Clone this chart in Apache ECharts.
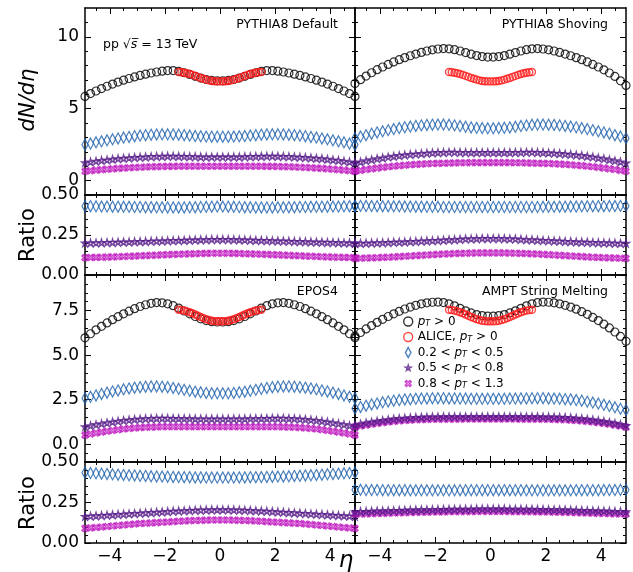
<!DOCTYPE html>
<html>
<head>
<meta charset="utf-8">
<script src="https://cdn.jsdelivr.net/npm/echarts@6/dist/echarts.min.js"></script>
<style>html,body{margin:0;padding:0;background:#fff}#chart{width:633px;height:572px}</style>
</head>
<body>
<div id="chart"></div>
<script>
// eta bins (step 0.2) and ALICE points (step 0.1)
var eta = [-4.9,-4.7,-4.5,-4.3,-4.1,-3.9,-3.7,-3.5,-3.3,-3.1,-2.9,-2.7,-2.5,-2.3,-2.1,-1.9,-1.7,-1.5,-1.3,-1.1,-0.9,-0.7,-0.5,-0.3,-0.1,
           0.1,0.3,0.5,0.7,0.9,1.1,1.3,1.5,1.7,1.9,2.1,2.3,2.5,2.7,2.9,3.1,3.3,3.5,3.7,3.9,4.1,4.3,4.5,4.7,4.9];
var etaAlice = [-1.5,-1.4,-1.3,-1.2,-1.1,-1.0,-0.9,-0.8,-0.7,-0.6,-0.5,-0.4,-0.3,-0.2,-0.1,0,0.1,0.2,0.3,0.4,0.5,0.6,0.7,0.8,0.9,1.0,1.1,1.2,1.3,1.4,1.5];
var alice = [7.55,7.53,7.50,7.46,7.41,7.35,7.28,7.21,7.14,7.08,7.02,6.97,6.93,6.91,6.90,6.90,6.90,6.91,6.93,6.97,7.02,7.08,7.14,7.21,7.28,7.35,7.41,7.46,7.50,7.53,7.55];

// PYTHIA8 Default
var defAll = [5.85,6.05,6.23,6.40,6.56,6.71,6.85,6.98,7.10,7.21,7.31,7.40,7.48,7.55,7.61,7.65,7.65,7.60,7.50,7.38,7.25,7.13,7.03,6.97,6.94,
              6.94,6.97,7.03,7.13,7.25,7.38,7.50,7.60,7.65,7.65,7.61,7.55,7.48,7.40,7.31,7.21,7.10,6.98,6.85,6.71,6.56,6.40,6.23,6.05,5.85];
var defB1 = [2.50,2.58,2.66,2.73,2.80,2.87,2.93,2.99,3.04,3.09,3.13,3.16,3.19,3.21,3.22,3.22,3.21,3.19,3.16,3.13,3.10,3.08,3.06,3.05,3.05,
             3.05,3.05,3.06,3.08,3.10,3.13,3.16,3.19,3.21,3.22,3.22,3.21,3.19,3.16,3.13,3.09,3.04,2.99,2.93,2.87,2.80,2.73,2.66,2.58,2.50];
var defB2 = [1.25,1.30,1.35,1.40,1.44,1.48,1.52,1.55,1.58,1.61,1.63,1.65,1.67,1.68,1.69,1.70,1.70,1.69,1.68,1.67,1.66,1.65,1.65,1.64,1.64,
             1.64,1.64,1.65,1.65,1.66,1.67,1.68,1.69,1.70,1.70,1.69,1.68,1.67,1.65,1.63,1.61,1.58,1.55,1.52,1.48,1.44,1.40,1.35,1.30,1.25];
var defB3 = [0.65,0.69,0.73,0.76,0.79,0.82,0.85,0.87,0.89,0.91,0.93,0.95,0.96,0.97,0.98,0.99,0.99,1.00,1.00,1.00,1.00,1.00,1.00,1.00,1.00,
             1.00,1.00,1.00,1.00,1.00,1.00,1.00,1.00,0.99,0.99,0.98,0.97,0.96,0.95,0.93,0.91,0.89,0.87,0.85,0.82,0.79,0.76,0.73,0.69,0.65];
var defR1 = [0.430,0.430,0.429,0.428,0.428,0.427,0.427,0.426,0.426,0.425,0.425,0.424,0.424,0.423,0.423,0.422,0.422,0.422,0.422,0.423,0.424,0.425,0.426,0.427,0.428,
             0.428,0.427,0.426,0.425,0.424,0.423,0.422,0.422,0.422,0.422,0.423,0.423,0.424,0.424,0.425,0.425,0.426,0.426,0.427,0.427,0.428,0.428,0.429,0.430,0.430];
var defR2 = [0.200,0.200,0.201,0.202,0.203,0.204,0.205,0.206,0.207,0.208,0.209,0.210,0.211,0.212,0.213,0.214,0.215,0.216,0.217,0.218,0.219,0.220,0.221,0.222,0.222,
             0.222,0.222,0.221,0.220,0.219,0.218,0.217,0.216,0.215,0.214,0.213,0.212,0.211,0.210,0.209,0.208,0.207,0.206,0.205,0.204,0.203,0.202,0.201,0.200,0.200];
var defR3 = [0.108,0.109,0.110,0.111,0.112,0.113,0.114,0.116,0.117,0.118,0.120,0.121,0.123,0.124,0.126,0.127,0.129,0.130,0.131,0.132,0.133,0.134,0.135,0.136,0.136,
             0.136,0.136,0.135,0.134,0.133,0.132,0.131,0.130,0.129,0.127,0.126,0.124,0.123,0.121,0.120,0.118,0.117,0.116,0.114,0.113,0.112,0.111,0.110,0.109,0.108];

// PYTHIA8 Shoving
var shvAll = [6.75,7.02,7.27,7.50,7.71,7.90,8.08,8.25,8.41,8.55,8.68,8.80,8.91,9.01,9.09,9.15,9.18,9.16,9.10,9.01,8.90,8.79,8.69,8.62,8.59,
              8.59,8.62,8.69,8.79,8.90,9.01,9.10,9.16,9.18,9.15,9.09,9.01,8.91,8.80,8.68,8.55,8.41,8.25,8.08,7.90,7.70,7.48,7.24,6.94,6.62];
var shvB1 = [2.95,3.06,3.16,3.26,3.35,3.43,3.51,3.58,3.65,3.71,3.76,3.80,3.84,3.87,3.89,3.90,3.90,3.88,3.84,3.79,3.74,3.70,3.67,3.65,3.64,
             3.64,3.65,3.67,3.70,3.74,3.79,3.84,3.88,3.90,3.90,3.89,3.87,3.84,3.80,3.76,3.71,3.65,3.58,3.51,3.43,3.35,3.26,3.16,3.06,2.95];
var shvB2 = [1.22,1.30,1.38,1.45,1.52,1.58,1.64,1.69,1.74,1.78,1.82,1.85,1.88,1.91,1.93,1.95,1.96,1.97,1.97,1.96,1.96,1.95,1.95,1.95,1.95,
             1.95,1.95,1.95,1.95,1.96,1.96,1.97,1.97,1.96,1.95,1.93,1.91,1.88,1.85,1.82,1.78,1.74,1.69,1.64,1.58,1.52,1.45,1.38,1.30,1.22];
var shvB3 = [0.65,0.71,0.77,0.82,0.87,0.92,0.96,1.00,1.04,1.07,1.10,1.13,1.15,1.17,1.19,1.20,1.21,1.22,1.23,1.24,1.24,1.25,1.25,1.25,1.25,
             1.25,1.25,1.25,1.25,1.24,1.24,1.23,1.22,1.21,1.20,1.19,1.17,1.15,1.13,1.10,1.07,1.04,1.00,0.96,0.92,0.87,0.82,0.77,0.71,0.65];
var shvR1 = [0.432,0.432,0.431,0.431,0.430,0.430,0.430,0.429,0.429,0.428,0.428,0.427,0.427,0.426,0.426,0.426,0.425,0.425,0.425,0.425,0.425,0.425,0.425,0.425,0.425,
             0.425,0.425,0.425,0.425,0.425,0.425,0.425,0.425,0.425,0.426,0.426,0.426,0.427,0.427,0.428,0.428,0.429,0.429,0.430,0.430,0.430,0.431,0.431,0.432,0.432];
var shvR2 = [0.198,0.198,0.199,0.200,0.201,0.202,0.203,0.205,0.206,0.207,0.209,0.210,0.212,0.213,0.215,0.216,0.218,0.220,0.221,0.223,0.225,0.226,0.227,0.228,0.228,
             0.228,0.228,0.227,0.226,0.225,0.223,0.221,0.220,0.218,0.216,0.215,0.213,0.212,0.210,0.209,0.207,0.206,0.205,0.203,0.202,0.201,0.200,0.199,0.198,0.198];
var shvR3 = [0.104,0.105,0.106,0.107,0.108,0.110,0.111,0.113,0.115,0.117,0.119,0.121,0.123,0.125,0.127,0.129,0.131,0.132,0.134,0.135,0.136,0.137,0.138,0.138,0.138,
             0.138,0.138,0.138,0.137,0.136,0.135,0.134,0.132,0.131,0.129,0.127,0.125,0.123,0.121,0.119,0.117,0.115,0.113,0.111,0.110,0.108,0.107,0.106,0.105,0.104];

// EPOS4
var epoAll = [5.97,6.20,6.42,6.62,6.81,6.99,7.16,7.32,7.47,7.61,7.73,7.83,7.91,7.95,7.94,7.88,7.78,7.64,7.48,7.32,7.17,7.04,6.94,6.88,6.86,
              6.86,6.88,6.94,7.04,7.17,7.32,7.48,7.64,7.78,7.88,7.94,7.95,7.91,7.83,7.73,7.61,7.47,7.32,7.16,6.99,6.81,6.62,6.42,6.20,5.97];
var epoB1 = [2.58,2.66,2.74,2.82,2.89,2.96,3.02,3.08,3.13,3.17,3.20,3.23,3.24,3.24,3.23,3.20,3.16,3.11,3.05,3.00,2.95,2.91,2.88,2.86,2.86,
             2.86,2.86,2.88,2.91,2.95,3.00,3.05,3.11,3.16,3.20,3.23,3.24,3.24,3.23,3.20,3.17,3.13,3.08,3.02,2.96,2.89,2.82,2.74,2.66,2.58];
var epoB2 = [0.98,1.04,1.10,1.15,1.20,1.25,1.29,1.33,1.36,1.39,1.41,1.43,1.44,1.45,1.45,1.45,1.44,1.44,1.43,1.43,1.42,1.42,1.42,1.42,1.42,
             1.42,1.42,1.42,1.42,1.42,1.43,1.43,1.44,1.44,1.45,1.45,1.45,1.44,1.43,1.41,1.39,1.36,1.33,1.29,1.25,1.20,1.15,1.10,1.04,0.98];
var epoB3 = [0.51,0.57,0.63,0.68,0.73,0.77,0.81,0.85,0.88,0.91,0.93,0.95,0.96,0.97,0.98,0.98,0.98,0.98,0.98,0.98,0.98,0.98,0.98,0.98,0.98,
             0.98,0.98,0.98,0.98,0.98,0.98,0.98,0.98,0.98,0.98,0.98,0.97,0.96,0.95,0.93,0.91,0.88,0.85,0.81,0.77,0.73,0.68,0.63,0.57,0.51];
var epoR1 = [0.434,0.432,0.430,0.428,0.426,0.424,0.422,0.420,0.418,0.417,0.415,0.414,0.412,0.411,0.410,0.409,0.408,0.407,0.406,0.406,0.405,0.405,0.404,0.404,0.404,
             0.404,0.404,0.404,0.405,0.405,0.406,0.406,0.407,0.408,0.409,0.410,0.411,0.412,0.414,0.415,0.417,0.418,0.420,0.422,0.424,0.426,0.428,0.430,0.432,0.434];
var epoR2 = [0.164,0.166,0.168,0.170,0.172,0.174,0.176,0.178,0.180,0.182,0.184,0.186,0.188,0.190,0.192,0.194,0.196,0.198,0.199,0.201,0.202,0.203,0.204,0.205,0.205,
             0.205,0.205,0.204,0.203,0.202,0.201,0.199,0.198,0.196,0.194,0.192,0.190,0.188,0.186,0.184,0.182,0.180,0.178,0.176,0.174,0.172,0.170,0.168,0.166,0.164];
var epoR3 = [0.090,0.093,0.096,0.099,0.102,0.105,0.108,0.111,0.114,0.117,0.120,0.122,0.124,0.126,0.128,0.130,0.132,0.134,0.136,0.138,0.139,0.140,0.141,0.142,0.142,
             0.142,0.142,0.141,0.140,0.139,0.138,0.136,0.134,0.132,0.130,0.128,0.126,0.124,0.122,0.120,0.117,0.114,0.111,0.108,0.105,0.102,0.099,0.096,0.093,0.090];

// AMPT String Melting
var amtAll = [6.06,6.27,6.47,6.66,6.84,7.01,7.17,7.32,7.46,7.59,7.70,7.80,7.88,7.94,7.97,7.98,7.95,7.88,7.77,7.63,7.49,7.37,7.28,7.22,7.19,
              7.19,7.22,7.28,7.37,7.49,7.63,7.77,7.88,7.95,7.98,7.97,7.94,7.88,7.80,7.70,7.58,7.44,7.29,7.12,6.94,6.74,6.53,6.30,6.05,5.78];
var amtB1 = [2.01,2.09,2.16,2.23,2.29,2.35,2.40,2.44,2.48,2.51,2.53,2.55,2.56,2.57,2.58,2.58,2.58,2.57,2.57,2.56,2.56,2.55,2.55,2.55,2.55,
             2.55,2.55,2.55,2.56,2.56,2.57,2.57,2.58,2.58,2.58,2.57,2.56,2.55,2.53,2.51,2.48,2.44,2.39,2.34,2.28,2.21,2.14,2.07,1.99,1.92];
var amtB2 = [1.07,1.13,1.19,1.24,1.29,1.33,1.37,1.41,1.44,1.46,1.48,1.50,1.51,1.52,1.53,1.53,1.54,1.54,1.54,1.54,1.54,1.54,1.54,1.54,1.54,
             1.54,1.54,1.54,1.54,1.54,1.54,1.54,1.54,1.54,1.53,1.53,1.52,1.51,1.50,1.48,1.46,1.43,1.40,1.36,1.32,1.28,1.23,1.17,1.11,1.05];
var amtB3 = [0.97,1.02,1.07,1.12,1.17,1.21,1.25,1.28,1.31,1.33,1.35,1.37,1.38,1.39,1.40,1.40,1.41,1.41,1.41,1.41,1.42,1.42,1.42,1.42,1.42,
             1.42,1.42,1.42,1.42,1.42,1.41,1.41,1.41,1.41,1.40,1.40,1.39,1.38,1.37,1.35,1.33,1.31,1.28,1.25,1.21,1.17,1.12,1.07,1.02,0.96];
var amtR1 = [0.328,0.328,0.327,0.327,0.327,0.326,0.326,0.326,0.326,0.326,0.325,0.325,0.325,0.325,0.325,0.325,0.325,0.325,0.325,0.326,0.326,0.326,0.326,0.326,0.326,
             0.326,0.326,0.326,0.326,0.326,0.326,0.325,0.325,0.325,0.325,0.325,0.325,0.325,0.325,0.325,0.326,0.326,0.326,0.326,0.326,0.327,0.327,0.327,0.328,0.328];
var amtR2 = [0.193,0.194,0.195,0.196,0.197,0.198,0.199,0.200,0.201,0.202,0.203,0.204,0.205,0.205,0.206,0.207,0.207,0.208,0.208,0.209,0.209,0.209,0.210,0.210,0.210,
             0.210,0.210,0.210,0.209,0.209,0.209,0.208,0.208,0.207,0.207,0.206,0.205,0.205,0.204,0.203,0.202,0.201,0.200,0.199,0.198,0.197,0.196,0.195,0.194,0.193];
var amtR3 = [0.178,0.179,0.180,0.181,0.182,0.183,0.184,0.185,0.186,0.187,0.188,0.189,0.190,0.190,0.191,0.192,0.192,0.193,0.193,0.194,0.194,0.194,0.195,0.195,0.195,
             0.195,0.195,0.195,0.194,0.194,0.194,0.193,0.193,0.192,0.192,0.191,0.190,0.190,0.189,0.188,0.187,0.186,0.185,0.184,0.183,0.182,0.181,0.180,0.179,0.178];

// tick positions
var xMajor = [-4,-2,0,2,4];
var xMinor = [-4.5,-3.5,-3,-2.5,-1.5,-1,-0.5,0.5,1,1.5,2.5,3,3.5,4.5];
var yTopMajor = [0,5,10];
var yTopMinor = [1,2,3,4,6,7,8,9,11];
var yBotMajor = [0,2.5,5,7.5];
var yBotMinor = [-0.5,0.5,1,1.5,2,3,3.5,4,4.5,5.5,6,6.5,7,8,8.5,9];
var rMajor = [0,0.25,0.5];
var rMinor = [0.05,0.1,0.15,0.2,0.3,0.35,0.4,0.45];

var FONT = 'DejaVu Sans';
var N_ALL = 'pT > 0', N_ALICE = 'ALICE, pT > 0', N_B1 = '0.2 < pT < 0.5', N_B2 = '0.5 < pT < 0.8', N_B3 = '0.8 < pT < 1.3';
var STAR = 'path://M50,0 L61,35 L98,35 L68,57 L79,91 L50,70 L21,91 L32,57 L2,35 L39,35 Z';
var XSYM = 'path://M20,0 L50,30 L80,0 L100,20 L70,50 L100,80 L80,100 L50,70 L20,100 L0,80 L30,50 L0,20 Z';
// legend icons padded with empty moves so they draw smaller than the box
var STAR_L = 'path://M-25,-25 M125,125 M50,0 L61,35 L98,35 L68,57 L79,91 L50,70 L21,91 L32,57 L2,35 L39,35 Z';
var XSYM_L = 'path://M-25,-25 M125,125 M20,0 L50,30 L80,0 L100,20 L70,50 L100,80 L80,100 L50,70 L20,100 L0,80 L30,50 L0,20 Z';
var DIAM_L = 'path://M3.5,0 L7,6.5 L3.5,13 L0,6.5 Z';
var C_BLUE = '#1b5fab', C_PURP = '#541887', C_MAG = '#bf17bf', C_RED = '#ff1a1a';

var grids = [], xAxes = [], yAxes = [], series = [];
var lineSt = {color:'#000', width:1.5};

function minus(v){ return v < 0 ? '\u2212' + Math.abs(v) : String(v); }

function frame(rect, ymin, ymax, yMaj, yMin, yFmt, showX, showY){
    var g = grids.length;
    grids.push({left:rect[0], top:rect[1], width:rect[2], height:rect[3]});
    var xi = xAxes.length;
    ['bottom','top'].forEach(function(pos){
        xAxes.push({gridIndex:g, type:'value', min:-4.9, max:4.9, position:pos,
            axisLine:{show:true, onZero:false, lineStyle:lineSt},
            axisTick:{show:true, inside:true, length:6, customValues:xMajor, lineStyle:{color:'#000', width:1}},
            axisLabel:{show:showX && pos == 'bottom', customValues:xMajor, formatter:minus,
                fontFamily:FONT, fontSize:17, color:'#000', margin:5},
            splitLine:{show:false}});
        xAxes.push({gridIndex:g, type:'value', min:-4.9, max:4.9, position:pos,
            axisLine:{show:false, onZero:false},
            axisTick:{show:true, inside:true, length:3, customValues:xMinor, lineStyle:{color:'#000', width:1}},
            axisLabel:{show:false}, splitLine:{show:false}});
    });
    var yi = yAxes.length;
    ['left','right'].forEach(function(pos){
        yAxes.push({gridIndex:g, type:'value', min:ymin, max:ymax, position:pos,
            axisLine:{show:true, onZero:false, lineStyle:lineSt},
            axisTick:{show:true, inside:true, length:6, customValues:yMaj, lineStyle:{color:'#000', width:1}},
            axisLabel:{show:showY && pos == 'left', customValues:yMaj, formatter:yFmt,
                fontFamily:FONT, fontSize:17, color:'#000', margin:6},
            splitLine:{show:false}});
        yAxes.push({gridIndex:g, type:'value', min:ymin, max:ymax, position:pos,
            axisLine:{show:false, onZero:false},
            axisTick:{show:true, inside:true, length:3, customValues:yMin, lineStyle:{color:'#000', width:1}},
            axisLabel:{show:false}, splitLine:{show:false}});
    });
    return {x:xi, y:yi};
}

function pts(xs, ys){ return xs.map(function(x, i){ return [x, ys[i]]; }); }

function sc(ax, name, xs, ys, symbol, size, color, bw, z){
    series.push({type:'scatter', name:name, xAxisIndex:ax.x, yAxisIndex:ax.y,
        data:pts(xs, ys), symbol:symbol, symbolSize:size, z:z || 2,
        itemStyle:{color:'rgba(0,0,0,0)', borderColor:color, borderWidth:bw},
        emphasis:{disabled:true}, silent:true, animation:false});
}

function panel(mainRect, ratioRect, ymin, ymax, yMaj, yMin, yFmt, showX, showY, d){
    var m = frame(mainRect, ymin, ymax, yMaj, yMin, yFmt, false, showY);
    sc(m, N_B3, eta, d.b3, XSYM, 6, C_MAG, 1.5);
    sc(m, N_B2, eta, d.b2, STAR, 6.5, C_PURP, 1.5);
    sc(m, N_B1, eta, d.b1, 'diamond', [6,11], C_BLUE, 1.3);
    sc(m, N_ALL, eta, d.all, 'circle', 8, '#000', 1.2);
    sc(m, N_ALICE, etaAlice, alice, 'circle', 7, C_RED, 1.4, 3);
    var r = frame(ratioRect, 0, 0.5, rMajor, rMinor, function(v){ return v.toFixed(2); }, showX, showY);
    sc(r, N_B3, eta, d.r3, XSYM, 6, C_MAG, 1.5);
    sc(r, N_B2, eta, d.r2, STAR, 6.5, C_PURP, 1.5);
    sc(r, N_B1, eta, d.r1, 'diamond', [6,11], C_BLUE, 1.3);
}

var fmtTop = function(v){ return String(v); };
var fmtBot = function(v){ return v.toFixed(1); };

panel([85,8,270,187], [85,195,270,80], -1, 12, yTopMajor, yTopMinor, fmtTop, false, true,
      {all:defAll, b1:defB1, b2:defB2, b3:defB3, r1:defR1, r2:defR2, r3:defR3});
panel([355,8,271,187], [355,195,271,80], -1, 12, yTopMajor, yTopMinor, fmtTop, false, false,
      {all:shvAll, b1:shvB1, b2:shvB2, b3:shvB3, r1:shvR1, r2:shvR2, r3:shvR3});
panel([85,275,270,187], [85,462,270,81], -1, 9.5, yBotMajor, yBotMinor, fmtBot, true, true,
      {all:epoAll, b1:epoB1, b2:epoB2, b3:epoB3, r1:epoR1, r2:epoR2, r3:epoR3});
panel([355,275,271,187], [355,462,271,81], -1, 9.5, yBotMajor, yBotMinor, fmtBot, true, false,
      {all:amtAll, b1:amtB1, b2:amtB2, b3:amtB3, r1:amtR1, r2:amtR2, r3:amtR3});

var legendText = {};
legendText[N_ALL] = '{i|p}{s|T}{n| > 0}';
legendText[N_ALICE] = '{n|ALICE, }{i|p}{s|T}{n| > 0}';
legendText[N_B1] = '{n|0.2 < }{i|p}{s|T}{n| < 0.5}';
legendText[N_B2] = '{n|0.5 < }{i|p}{s|T}{n| < 0.8}';
legendText[N_B3] = '{n|0.8 < }{i|p}{s|T}{n| < 1.3}';

function legItem(name, icon, color){
    return {name:name, icon:icon, itemStyle:{color:'rgba(0,0,0,0)', borderColor:color, borderWidth:1.4}};
}

var chart = echarts.init(document.getElementById('chart'), null, {renderer:'canvas'});
chart.setOption({
    animation:false,
    backgroundColor:'#fff',
    grid:grids, xAxis:xAxes, yAxis:yAxes, series:series,
    legend:{
        orient:'vertical', left:398, top:310, itemWidth:9, itemHeight:10, itemGap:2.5,
        selectedMode:false,
        data:[legItem(N_ALL,'circle','#000'), legItem(N_ALICE,'circle',C_RED),
              legItem(N_B1,DIAM_L,C_BLUE), legItem(N_B2,STAR_L,C_PURP), legItem(N_B3,XSYM_L,C_MAG)],
        formatter:function(n){ return legendText[n]; },
        textStyle:{fontFamily:FONT, fontSize:12, color:'#000', lineHeight:12.5,
            rich:{
                n:{fontFamily:FONT, fontSize:12, color:'#000', lineHeight:12.5},
                i:{fontFamily:FONT, fontSize:12, fontStyle:'italic', color:'#000', lineHeight:12.5},
                s:{fontFamily:FONT, fontSize:8, fontStyle:'italic', color:'#000', lineHeight:12.5, padding:[5,0,0,0]}
            }}
    },
    graphic:[
        {type:'text', x:338, y:25, style:{text:'PYTHIA8 Default', font:'12.5px "DejaVu Sans"', fill:'#000', textAlign:'right', textVerticalAlign:'middle'}},
        {type:'text', x:103, y:45, style:{text:'{n|pp \u221A}{i|s\u0305}{n| = 13 TeV}', fill:'#000', textAlign:'left', textVerticalAlign:'middle',
            rich:{n:{fontFamily:FONT, fontSize:12.5, fill:'#000'}, i:{fontFamily:FONT, fontSize:12.5, fontStyle:'italic', fill:'#000'}}}},
        {type:'text', x:608, y:25, style:{text:'PYTHIA8 Shoving', font:'12.5px "DejaVu Sans"', fill:'#000', textAlign:'right', textVerticalAlign:'middle'}},
        {type:'text', x:338, y:292, style:{text:'EPOS4', font:'12.5px "DejaVu Sans"', fill:'#000', textAlign:'right', textVerticalAlign:'middle'}},
        {type:'text', x:608, y:292, style:{text:'AMPT String Melting', font:'12.5px "DejaVu Sans"', fill:'#000', textAlign:'right', textVerticalAlign:'middle'}},
        {type:'text', x:29, y:100, rotation:Math.PI/2, style:{text:'dN/d\u03B7', font:'italic 21px "DejaVu Sans"', fill:'#000', textAlign:'center', textVerticalAlign:'middle'}},
        {type:'text', x:29, y:235, rotation:Math.PI/2, style:{text:'Ratio', font:'21px "DejaVu Sans"', fill:'#000', textAlign:'center', textVerticalAlign:'middle'}},
        {type:'text', x:29, y:503, rotation:Math.PI/2, style:{text:'Ratio', font:'21px "DejaVu Sans"', fill:'#000', textAlign:'center', textVerticalAlign:'middle'}},
        {type:'text', x:346, y:561, style:{text:'\u03B7', font:'italic 23px "DejaVu Sans"', fill:'#000', textAlign:'center', textVerticalAlign:'middle'}}
    ]
});
</script>
</body>
</html>
